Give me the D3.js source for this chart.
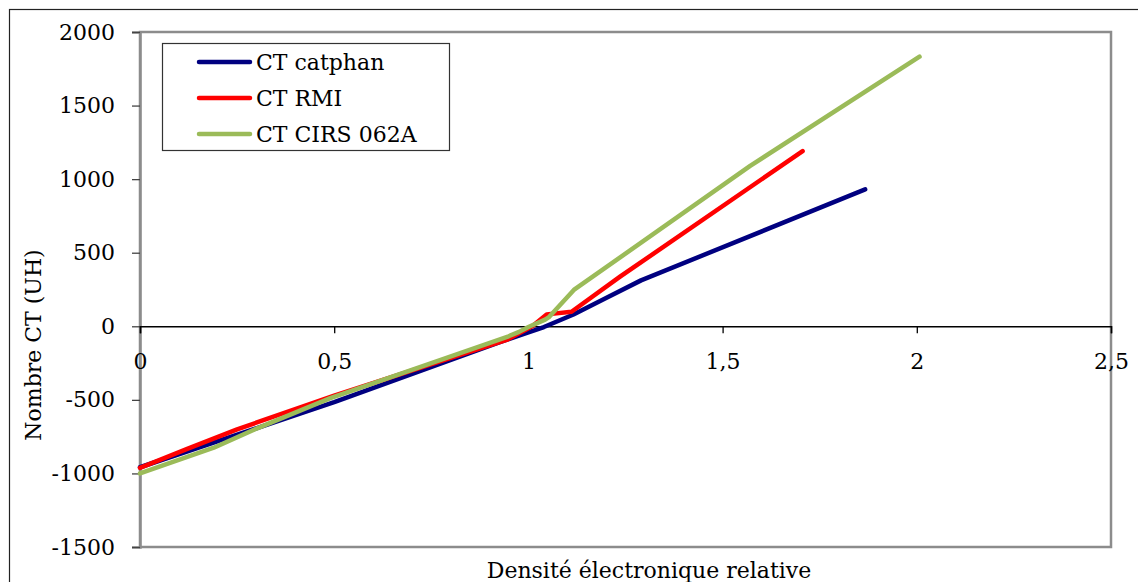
<!DOCTYPE html>
<html>
<head>
<meta charset="utf-8">
<script src="https://cdn.jsdelivr.net/npm/d3@7"></script>
<style>
    body { margin: 0; background: #fff; }
    svg text { font-family: "DejaVu Serif", serif; fill: #000; }
</style>
</head>
<body>
<div id="chart"></div>
<script>
// values
var catphanX = [0, 0.5, 0.93, 1.0, 1.04, 1.116, 1.2, 1.29, 1.867];
var catphanY = [-958, -516, -105, -42, -5, 80, 192, 312, 930];

var rmiX = [0, 0.12, 0.25, 0.5, 0.944, 1.01, 1.047, 1.111, 1.236, 1.706];
var rmiY = [-962, -835, -700, -472, -93, 0, 81, 99, 337, 1191];

var cirsX = [0, 0.19, 0.3, 0.49, 0.949, 0.976, 1.0, 1.043, 1.052, 1.117, 1.571, 2.007];
var cirsY = [-1000, -825, -695, -488, -68, -38, -5, 45, 60, 247, 1090, 1832];

var seriesNames = ["CT catphan", "CT RMI", "CT CIRS 062A"];
var seriesColors = ["#000080", "#ff0000", "#9bbb59"];

var xTicks = [0, 0.5, 1, 1.5, 2, 2.5];
var yTicks = [-1500, -1000, -500, 0, 500, 1000, 1500, 2000];

var margin = {
    top: 32,
    left: 140
}
var width = 1111 - margin.left;
var height = 547 - margin.top;

var svg = d3.select("#chart").append("svg")
    .attr("width", 1138)
    .attr("height", 582);

// outer frame of the chart
svg.append("rect")
    .attr("x", 9.5)
    .attr("y", 9.5)
    .attr("width", 1200)
    .attr("height", 700)
    .attr("fill", "none")
    .attr("stroke", "#222")
    .attr("stroke-width", 1.2);

var g = svg.append("g")
    .attr("transform", "translate(" + margin.left + "," + margin.top + ")");

var x = d3.scaleLinear().domain([0, 2.5]).range([0, width]);
var y = d3.scaleLinear().domain([-1500, 2000]).range([height, 0]);

var fmt = function (d) {
    return String(d).replace(".", ",");
};

// plot area border
g.append("rect")
    .attr("x", 0)
    .attr("y", 0)
    .attr("width", width)
    .attr("height", height)
    .attr("fill", "none")
    .attr("stroke", "#8c8c8c")
    .attr("stroke-width", 2.5);

// y axis (left)
var yAxis = g.append("g")
    .call(d3.axisLeft(y).tickValues(yTicks).tickSize(8).tickPadding(17).tickFormat(fmt));
yAxis.select(".domain").attr("stroke", "#8c8c8c").attr("stroke-width", 2.5);
yAxis.selectAll(".tick line").attr("stroke", "#444").attr("stroke-width", 1.3);
yAxis.selectAll(".tick text")
    .attr("font-size", "22px")
    .attr("font-family", "DejaVu Serif, serif");

// x axis crossing at y = 0
var xAxis = g.append("g")
    .attr("transform", "translate(0," + y(0) + ")")
    .call(d3.axisBottom(x).tickValues(xTicks).tickSize(7).tickPadding(20).tickFormat(fmt));
xAxis.select(".domain").attr("stroke", "#000").attr("stroke-width", 1.5);
xAxis.selectAll(".tick line").attr("stroke", "#000").attr("stroke-width", 1.3);
xAxis.selectAll(".tick text")
    .attr("font-size", "22px")
    .attr("font-family", "DejaVu Serif, serif");

var allSeries = [
    { name: seriesNames[0], color: seriesColors[0], xs: catphanX, ys: catphanY },
    { name: seriesNames[1], color: seriesColors[1], xs: rmiX, ys: rmiY },
    { name: seriesNames[2], color: seriesColors[2], xs: cirsX, ys: cirsY }
];

var line = d3.line()
    .x(function (d) { return x(d[0]); })
    .y(function (d) { return y(d[1]); });

allSeries.forEach(function (s) {
    var pts = s.xs.map(function (v, i) { return [v, s.ys[i]]; });
    g.append("path")
        .datum(pts)
        .attr("d", line)
        .attr("fill", "none")
        .attr("stroke", s.color)
        .attr("stroke-width", 4.5)
        .attr("stroke-linecap", "round")
        .attr("stroke-linejoin", "round");
});

// legend
var legend = svg.append("g");
legend.append("rect")
    .attr("x", 162.5)
    .attr("y", 43.5)
    .attr("width", 287)
    .attr("height", 107)
    .attr("fill", "#fff")
    .attr("stroke", "#333")
    .attr("stroke-width", 1.2);

allSeries.forEach(function (s, i) {
    var ly = 62 + i * 36;
    legend.append("line")
        .attr("x1", 199)
        .attr("x2", 250)
        .attr("y1", ly)
        .attr("y2", ly)
        .attr("stroke", s.color)
        .attr("stroke-width", 4.5)
        .attr("stroke-linecap", "round");
    legend.append("text")
        .attr("x", 256)
        .attr("y", ly + 8)
        .attr("font-size", "22px")
        .text(s.name);
});

// axis titles
svg.append("text")
    .attr("text-anchor", "middle")
    .attr("x", 649)
    .attr("y", 578)
    .attr("font-size", "22px")
    .text("Densité électronique relative");

svg.append("text")
    .attr("text-anchor", "middle")
    .attr("transform", "translate(41,345) rotate(-90)")
    .attr("font-size", "22px")
    .text("Nombre CT (UH)");
</script>
</body>
</html>
